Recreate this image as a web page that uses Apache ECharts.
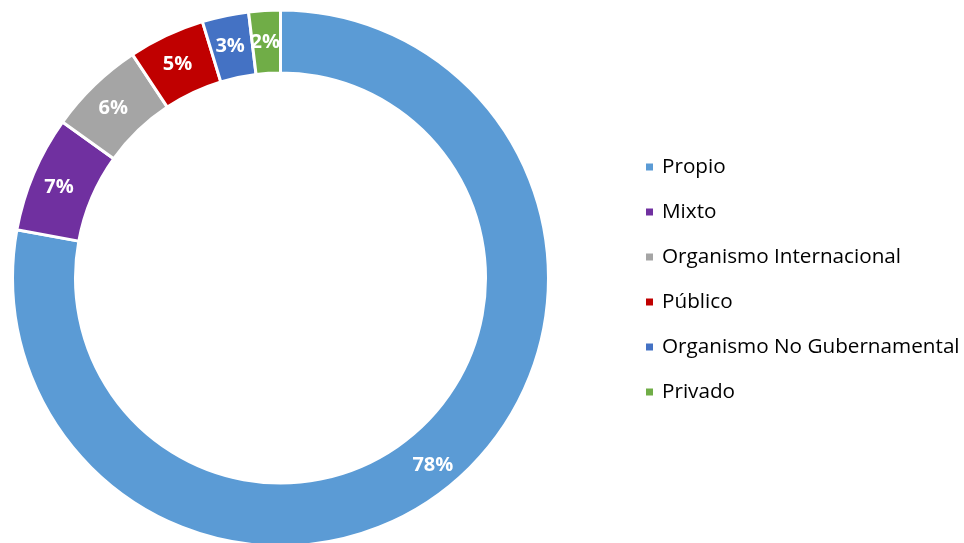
<!DOCTYPE html>
<html>
<head>
<meta charset="utf-8">
<script src="https://cdn.jsdelivr.net/npm/echarts@6/dist/echarts.min.js"></script>
<style>
html,body{margin:0;padding:0;background:#fff;}
#chart{width:964px;height:543px;}
</style>
</head>
<body>
<div id="chart"></div>
<script>
const categories = ['Propio', 'Mixto', 'Organismo Internacional', 'Público', 'Organismo No Gubernamental', 'Privado'];
const values = [77.8, 7.0, 5.8, 4.6, 2.8, 1.9];
const colors = ['#5B9BD5', '#7030A0', '#A5A5A5', '#C00000', '#4472C4', '#70AD47'];

const chart = echarts.init(document.getElementById('chart'), null, {renderer: 'canvas'});
chart.setOption({
  animation: false,
  backgroundColor: '#ffffff',
  color: colors,
  legend: {
    orient: 'vertical',
    left: 639,
    top: 151,
    padding: 5,
    icon: 'rect',
    itemWidth: 9,
    itemHeight: 9,
    itemGap: 23,
    data: categories,
    textStyle: {
      fontFamily: 'Open Sans',
      fontSize: 20.7,
      color: '#000000',
      lineHeight: 22,
      padding: [0, 0, 0, 3]
    }
  },
  series: [{
    type: 'pie',
    center: [280.5, 278],
    radius: [205, 268],
    startAngle: 90,
    clockwise: true,
    avoidLabelOverlap: false,
    itemStyle: { borderColor: '#ffffff', borderWidth: 3 },
    label: {
      show: true,
      position: 'inside',
      color: '#ffffff',
      fontFamily: 'Open Sans',
      fontWeight: 'bold',
      fontSize: 20,
      offset: [-1, 3],
      formatter: function (p) { return Math.round(p.value) + '%'; }
    },
    labelLine: { show: false },
    emphasis: { disabled: true },
    data: categories.map((c, i) => ({ name: c, value: values[i] }))
  }]
});
</script>
</body>
</html>
